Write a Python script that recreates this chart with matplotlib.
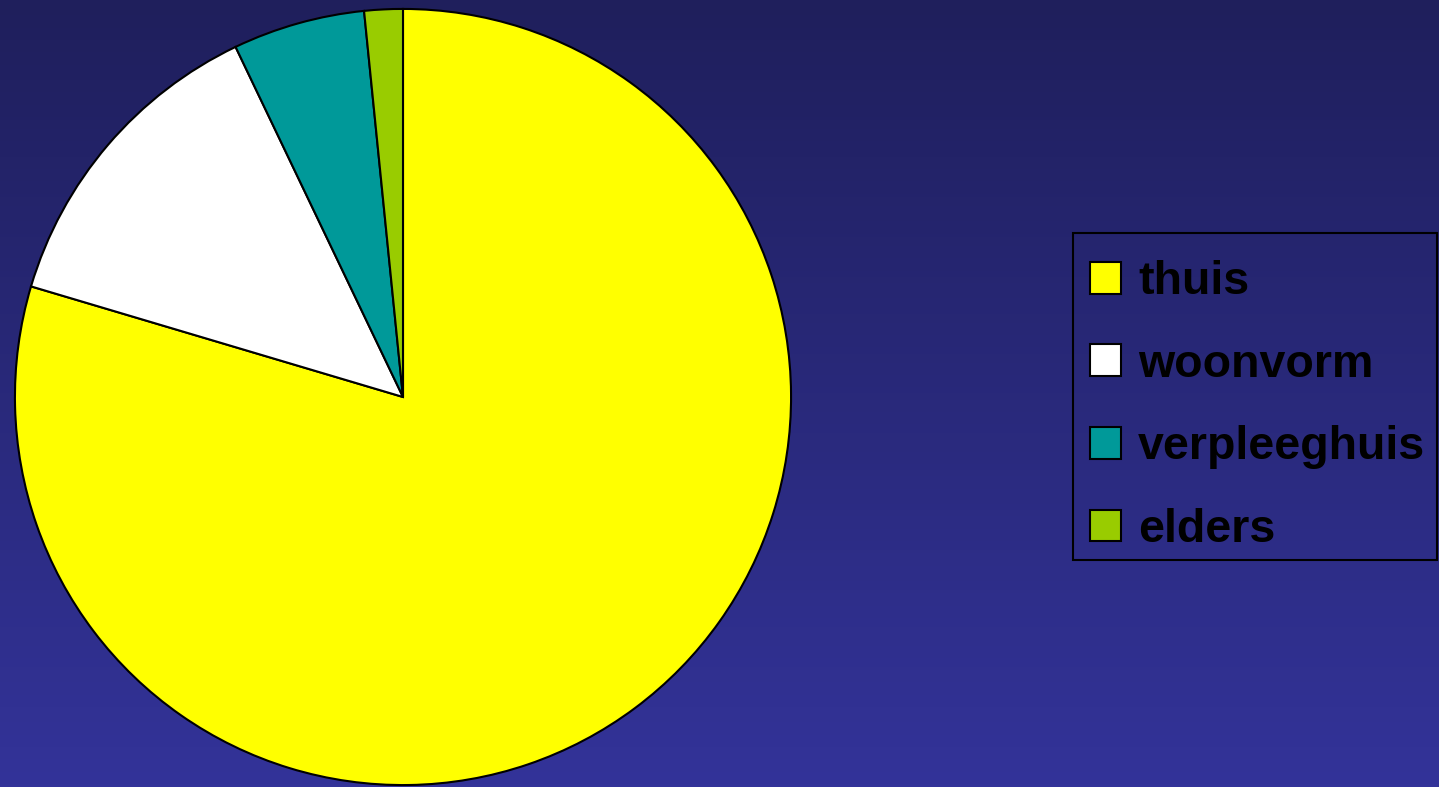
import matplotlib.pyplot as plt
import numpy as np
from matplotlib.patches import Patch, Rectangle

# where people were living (share in %)
labels = ["thuis", "woonvorm", "verpleeghuis", "elders"]
values = [79.6, 13.3, 5.5, 1.6]
colors = ["#ffff00", "#ffffff", "#009999", "#99cc00"]

W, H = 1439, 787
fig = plt.figure(figsize=(W / 100, H / 100), dpi=100)

# background gradient, dark navy at the top to lighter blue at the bottom
bg = fig.add_axes([0, 0, 1, 1])
grad = np.linspace(0, 1, 256).reshape(-1, 1)
top = np.array([0x1f, 0x1f, 0x5c]) / 255
bottom = np.array([0x33, 0x33, 0x99]) / 255
img = top + grad[..., None] * (bottom - top)
bg.imshow(img, aspect="auto", extent=[0, 1, 0, 1], origin="upper")
bg.set_xlim(0, 1)
bg.set_ylim(0, 1)
bg.axis("off")

# legend frame, drawn by hand so the padding can differ per side
bg.add_patch(Rectangle((1073 / W, 1 - 560 / H), (1437 - 1073) / W, (560 - 233) / H,
                       facecolor="none", edgecolor="black", linewidth=1.5))

# pie, centred at (403, 397) px with radius 390 px
r = 390
ax = fig.add_axes([(403 - r) / W, (H - 397 - r) / H, 2 * r / W, 2 * r / H])
ax.pie(values, colors=colors, startangle=90, counterclock=False, radius=1,
       wedgeprops=dict(edgecolor="black", linewidth=1.5))
ax.set_xlim(-1.005, 1.005)
ax.set_ylim(-1.005, 1.005)
ax.set_aspect("equal")
ax.axis("off")

handles = [Patch(facecolor=c, edgecolor="black", linewidth=1.5) for c in colors]
leg = fig.legend(handles, labels, loc="upper left",
                 bbox_to_anchor=(1090 / W, 1 - 260 / H),
                 prop=dict(family="Liberation Sans", weight="bold", size=33.5),
                 frameon=False,
                 handlelength=0.67, handleheight=0.67, handletextpad=0.36,
                 labelspacing=0.83, borderpad=0, borderaxespad=0)

fig.savefig("out.png", dpi=100)
